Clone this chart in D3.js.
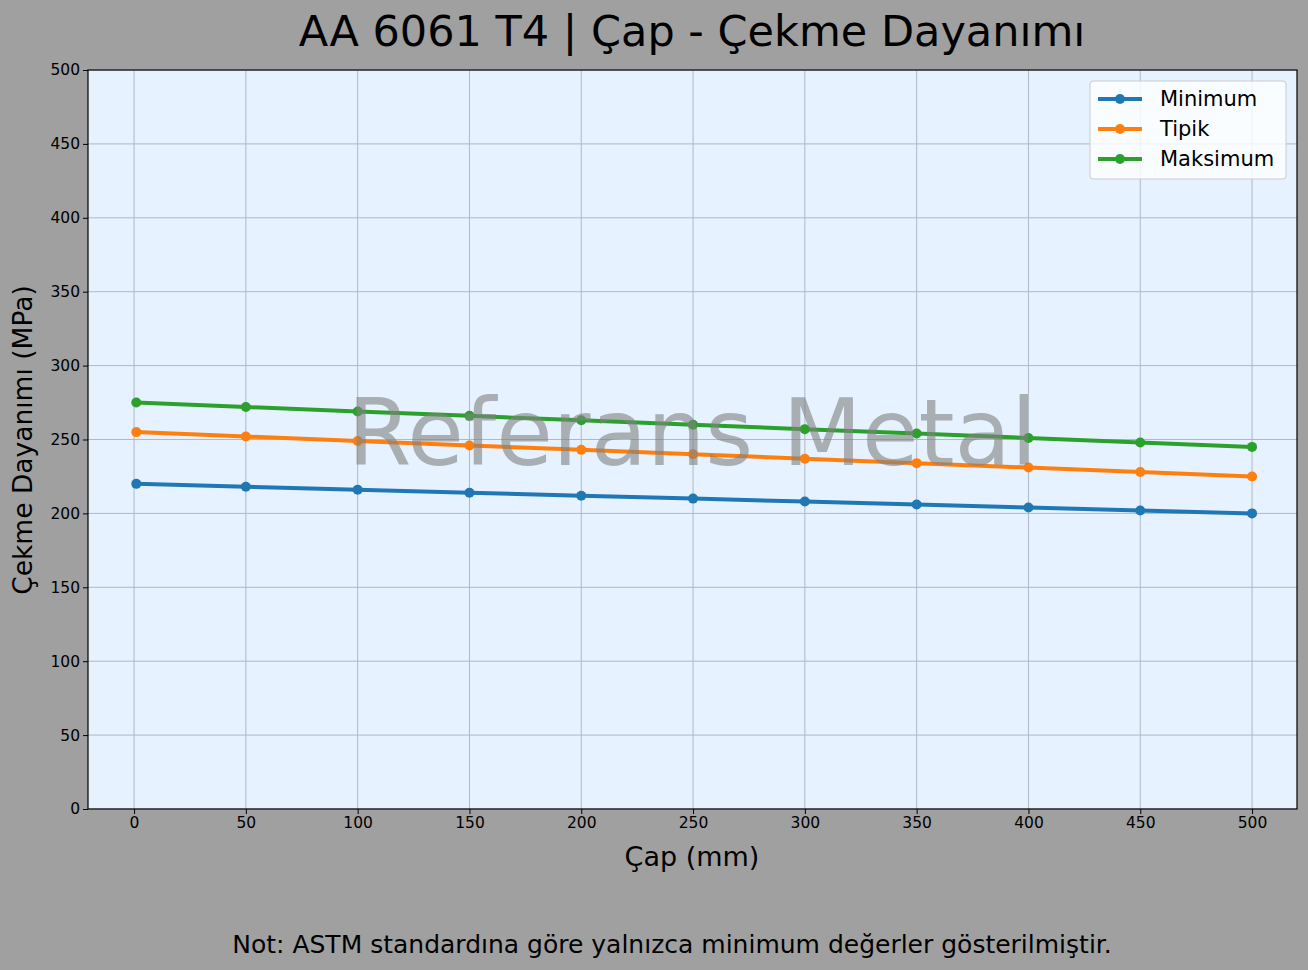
<!DOCTYPE html>
<html><head><meta charset="utf-8">
<script src="https://cdn.jsdelivr.net/npm/d3@7"></script>
<style>body{margin:0;background:#a0a0a0;font-family:"DejaVu Sans",sans-serif;}</style>
</head><body>
<svg id="c" width="1308" height="970"></svg>
<script>
const diameters=[1,50,100,150,200,250,300,350,400,450,500];
const xTicks=[0,50,100,150,200,250,300,350,400,450,500];
const yTicks=[0,50,100,150,200,250,300,350,400,450,500];
const minimum=[220,218,216,214,212,210,208,206,204,202,200];
const tipik=[255,252,249,246,243,240,237,234,231,228,225];
const maksimum=[275,272,269,266,263,260,257,254,251,248,245];
const series=[{name:"Minimum",vals:minimum,color:"#1f77b4"},{name:"Tipik",vals:tipik,color:"#ff7f0e"},{name:"Maksimum",vals:maksimum,color:"#2ca02c"}];
const svg=d3.select("#c");
const L=88,R=1297,T=70,B=809;
const x=d3.scaleLinear().domain([-20.6,520.1]).range([L,R]);
const y=d3.scaleLinear().domain([0,500]).range([B,T]);
svg.append("rect").attr("width",1308).attr("height",970).attr("fill","#a0a0a0");
svg.append("rect").attr("x",L).attr("y",T).attr("width",R-L).attr("height",B-T).attr("fill","#e6f2ff");
const g=svg.append("g");
xTicks.forEach(t=>g.append("line").attr("x1",x(t)).attr("x2",x(t)).attr("y1",T).attr("y2",B).attr("stroke","#b0b8c4").attr("stroke-width",1));
yTicks.forEach(t=>g.append("line").attr("y1",y(t)).attr("y2",y(t)).attr("x1",L).attr("x2",R).attr("stroke","#b0b8c4").attr("stroke-width",1));
const line=d3.line().x((d,i)=>x(diameters[i])).y(d=>y(d));
series.forEach(s=>{
 svg.append("path").attr("d",line(s.vals)).attr("fill","none").attr("stroke",s.color).attr("stroke-width",4);
 svg.selectAll(null).data(s.vals).enter().append("circle").attr("cx",(d,i)=>x(diameters[i])).attr("cy",d=>y(d)).attr("r",5).attr("fill",s.color);
});
svg.append("text").attr("x",692).attr("y",465).attr("text-anchor","middle").attr("font-size",92).attr("fill","#808080").attr("fill-opacity",0.6).text("Referans Metal");
svg.append("rect").attr("x",L).attr("y",T).attr("width",R-L).attr("height",B-T).attr("fill","none").attr("stroke","#000").attr("stroke-width",1.2);
const xa=svg.append("g").attr("transform",`translate(0,${B})`).call(d3.axisBottom(x).tickValues(xTicks).tickSize(5).tickSizeOuter(0));
const ya=svg.append("g").attr("transform",`translate(${L},0)`).call(d3.axisLeft(y).tickValues(yTicks).tickSize(5).tickSizeOuter(0));
[xa,ya].forEach(a=>{a.select(".domain").remove();a.selectAll("text").attr("font-size",15.5).attr("fill","#000").attr("font-family","DejaVu Sans");});
svg.append("text").attr("x",692).attr("y",866).attr("text-anchor","middle").attr("font-size",27).text("Çap (mm)");
svg.append("text").attr("transform","translate(32,440) rotate(-90)").attr("text-anchor","middle").attr("font-size",26.5).text("Çekme Dayanımı (MPa)");
svg.append("text").attr("x",692).attr("y",46).attr("text-anchor","middle").attr("font-size",43).text("AA 6061 T4 | Çap - Çekme Dayanımı");
svg.append("text").attr("x",672).attr("y",953).attr("text-anchor","middle").attr("font-size",25).text("Not: ASTM standardına göre yalnızca minimum değerler gösterilmiştir.");
const lg=svg.append("g").attr("transform","translate(1090,81)");
lg.append("rect").attr("width",196).attr("height",98).attr("rx",3).attr("fill","#fff").attr("fill-opacity",0.8).attr("stroke","#ccc");
series.forEach((s,i)=>{
 const yy=18+i*30;
 lg.append("line").attr("x1",8).attr("x2",52).attr("y1",yy).attr("y2",yy).attr("stroke",s.color).attr("stroke-width",4);
 lg.append("circle").attr("cx",30).attr("cy",yy).attr("r",5).attr("fill",s.color);
 lg.append("text").attr("x",70).attr("y",yy+7).attr("font-size",21).text(s.name);
});
</script>
</body></html>
